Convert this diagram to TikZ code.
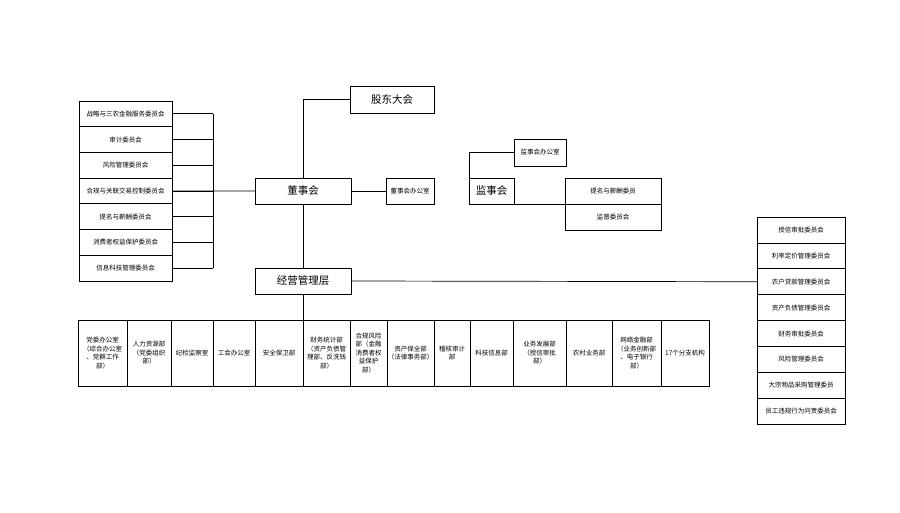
\documentclass[tikz,border=0pt]{standalone}
\usepackage{fontspec}
\newfontfamily\cjk{Noto Sans CJK SC}
\usetikzlibrary{positioning}

\tikzset{
  org/.style={draw, line width=0.7pt, inner sep=0pt, outer sep=0pt, align=center},
  small/.style={org, font=\cjk\fontsize{6.5}{8.5}\selectfont},
  big/.style={org, font=\cjk\fontsize{10.5}{12}\selectfont},
  link/.style={line width=0.7pt},
}

\begin{document}
\begin{tikzpicture}[x=1pt, y=-1pt]
  \useasboundingbox (0,0) rectangle (900,513);

  \node [big, minimum width=84pt, minimum height=27pt] (gddh) at (392,99.5) {股东大会};
  \node [big, minimum width=96pt, minimum height=26pt] (dsh) at (303,191) {董事会};
  \node [small, minimum width=48pt, minimum height=26pt] (dshbgs) at (410,191) {董事会办公室};
  \node [big, minimum width=96pt, minimum height=26pt] (jygl) at (303,281) {经营管理层};

  \node [big, minimum width=45pt, minimum height=26pt] (jsh) at (491.5,191) {监事会};
  \node [small, minimum width=52pt, minimum height=27pt] (jshbgs) at (540,152.5) {监事会办公室};
  \node [small, minimum width=96pt, minimum height=26pt] (tmxc) at (613,191) {提名与薪酬委员};
  \node [small, minimum width=96pt, minimum height=26pt, below=0pt of tmxc] (jdwy) {监督委员会};

  \foreach \txt [count=\i] in {战略与三农金融服务委员会, 审计委员会, 风险管理委员会,
      合规与关联交易控制委员会, 提名与薪酬委员会, 消费者权益保护委员会, 信息科技管理委员会}
    \node [small, minimum width=93pt, minimum height=25.7pt] (l\i) at (125.5,{101+25.7*(\i-0.5)}) {\txt};

  \foreach \txt [count=\i] in {授信审批委员会, 利率定价管理委员会, 农户贷款管理委员会,
      资产负债管理委员会, 财务审批委员会, 风险管理委员会, 大宗物品采购管理委员,
      员工违规行为问责委员会}
    \node [small, minimum width=88pt, minimum height=25.9pt] (r\i) at (801,{217+25.9*(\i-0.5)}) {\txt};

  \foreach \xa/\xb/\txt [count=\i] in {
      78/127/{党委办公室\\（综合办公室\\、党群工作\\部）},
      127/171/{人力资源部\\（党委组织\\部）},
      171/213/{纪检监察室},
      213/255/{工会办公室},
      255/303/{安全保卫部},
      303/350/{财务统计部\\（资产负债管\\理部、反洗钱\\部）},
      350/387/{合规风险\\部（金融\\消费者权\\益保护\\部）},
      387/434/{资产保全部\\（法律事务部）},
      434/470/{稽核审计\\部},
      470/513/{科技信息部},
      513/566/{业务发展部\\（授信审批\\部）},
      566/612/{农村业务部},
      612/661/{网络金融部\\（业务创新部\\、电子银行\\部）},
      661/709/{17个分支机构}} {
    \pgfmathsetmacro\xc{(\xa+\xb)/2}
    \pgfmathsetmacro\cellw{\xb-\xa}
    \node [small, minimum width=\cellw pt, minimum height=66pt] (b\i) at (\xc,353) {\txt};
  }

  \coordinate (lbus) at (213,0);
  \foreach \i in {1,...,7}
    \draw [link] (l\i.east) -- (lbus |- l\i.east);
  \draw [link] (lbus |- l1.east) -- (lbus |- l7.east);
  \draw [link] (l4.east) -- (dsh.west);

  \draw [link] (dsh.north) |- (gddh.west);
  \draw [link] (dsh.east) -- (dshbgs.west);
  \draw [link] (dsh.south) -- (jygl.north);
  \draw [link] (jygl.east) -- (r3.west);
  \draw [link] (jygl.south) -- (jygl.south |- b6.north);

  \draw [link] (jsh.north west) |- (jshbgs.west);
  \draw [link] (jsh.south east) -- (tmxc.south west);
\end{tikzpicture}
\end{document}
